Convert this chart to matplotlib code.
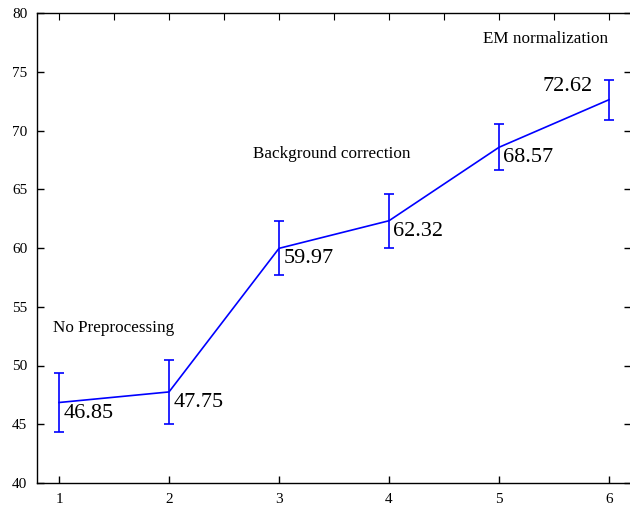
import numpy as np
import matplotlib
matplotlib.use("Agg")
import matplotlib.pyplot as plt

# --- data ---
steps = [1, 2, 3, 4, 5, 6]
accuracy = [46.85, 47.75, 59.97, 62.32, 68.57, 72.62]
spread = [2.5, 2.7, 2.3, 2.3, 1.95, 1.7]
value_labels = ["46.85", "47.75", "59.97", "62.32", "68.57", "72.62"]

stage_names = ["No Preprocessing", "Background correction", "EM normalization"]
stage_x = [0.945, 2.76, 4.855]
stage_y = [53.2, 68.0, 77.8]

plt.rcParams.update({
    "font.family": ["Liberation Serif", "DejaVu Serif"],
    "xtick.direction": "in",
    "ytick.direction": "in",
    "xtick.major.size": 5,
    "ytick.major.size": 5,
})

fig = plt.figure(figsize=(6.3, 5.07), dpi=100)
ax = fig.add_axes([37 / 630, 24 / 507, 594 / 630, 470 / 507])

ax.errorbar(steps, accuracy, yerr=spread, color="#0000ff", lw=1.2,
            elinewidth=1.2, capsize=3.3, capthick=1.2)

# numbers next to each point
for i, (x, y, s) in enumerate(zip(steps, accuracy, value_labels)):
    if i == len(steps) - 1:
        ax.text(x - 0.15, y + 1.1, s, fontsize=16, ha="right", va="center")
    else:
        ax.text(x + 0.04, y - 0.9, s, fontsize=16, ha="left", va="center")

for name, x, y in zip(stage_names, stage_x, stage_y):
    ax.text(x, y, name, fontsize=12.3, ha="left", va="center")

ax.set_xlim(0.8, 6.2)
ax.set_ylim(40, 80)
ax.set_xticks(steps)
ax.set_yticks(np.arange(40, 81, 5))
ax.tick_params(axis="both", labelsize=11, pad=7, width=1)
ax.tick_params(axis="y", right=True)

# top axis has ticks every half step, no labels
top = ax.secondary_xaxis("top")
top.set_xticks(np.arange(1, 6.01, 0.5))
top.tick_params(direction="in", length=5, labeltop=False)
top.spines["top"].set_visible(False)

for sp in ax.spines.values():
    sp.set_linewidth(1)

fig.savefig("out.png", dpi=100)
